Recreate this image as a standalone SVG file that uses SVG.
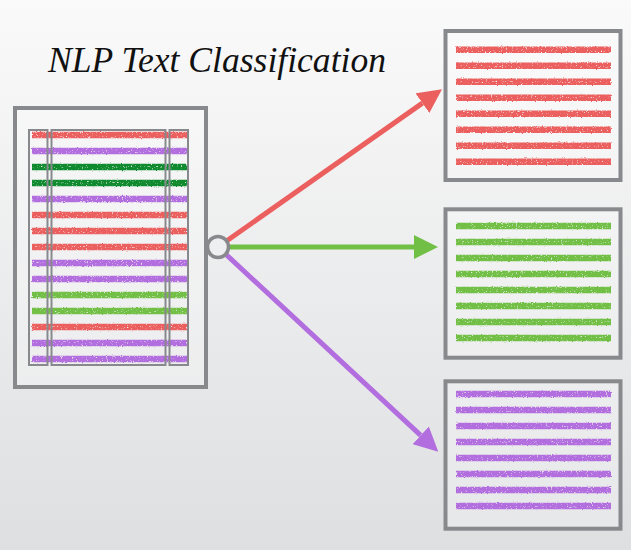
<svg xmlns="http://www.w3.org/2000/svg" width="631" height="550" viewBox="0 0 631 550">
  <defs>
    <linearGradient id="bg" x1="0" y1="0" x2="0" y2="1">
      <stop offset="0" stop-color="#fafafa"/>
      <stop offset="1" stop-color="#dedfe1"/>
    </linearGradient>
    <filter id="rough" x="-5%" y="-5%" width="110%" height="110%" color-interpolation-filters="sRGB">
      <feTurbulence type="fractalNoise" baseFrequency="0.8" numOctaves="1" seed="4" result="n"/>
      <feDisplacementMap in="SourceGraphic" in2="n" scale="2.5" xChannelSelector="G" yChannelSelector="B" result="d"/>
      <feColorMatrix in="n" type="matrix" values="0 0 0 0 0  0 0 0 0 0  0 0 0 0 0  5 0 0 0 -1.0" result="a"/>
      <feComposite in="d" in2="a" operator="in"/>
    </filter>
    <marker id="ah-red" viewBox="0 0 24 24" refX="0" refY="12" markerWidth="24" markerHeight="24" markerUnits="userSpaceOnUse" orient="auto">
      <path d="M0,0 L24,12 L0,24 z" fill="#ec5f5f"/>
    </marker>
    <marker id="ah-green" viewBox="0 0 24 24" refX="0" refY="12" markerWidth="24" markerHeight="24" markerUnits="userSpaceOnUse" orient="auto">
      <path d="M0,0 L24,12 L0,24 z" fill="#72bf45"/>
    </marker>
    <marker id="ah-purple" viewBox="0 0 24 24" refX="0" refY="12" markerWidth="24" markerHeight="24" markerUnits="userSpaceOnUse" orient="auto">
      <path d="M0,0 L24,12 L0,24 z" fill="#b26ddf"/>
    </marker>
  </defs>
  <style>
    .box { fill: #ffffff; fill-opacity: 0.25; stroke: #87898d; stroke-width: 4; }
    .col { fill: none; stroke: #87898d; stroke-width: 2; }
    .ln { stroke-width: 6.5; fill: none; }
    .r { stroke: #ec5f5f; }
    .p { stroke: #b26ddf; }
    .dg { stroke: #0f8a2e; }
    .g { stroke: #72bf45; }
    .conn { stroke-width: 5; fill: none; }
    .title { font-family: "Liberation Serif", "Times New Roman", serif; font-style: italic; font-size: 35px; fill: #111111; }
  </style>

  <rect x="0" y="0" width="631" height="550" fill="url(#bg)"/>

  <g id="title">
    <text class="title" x="48" y="72" textLength="338" lengthAdjust="spacingAndGlyphs">NLP Text Classification</text>
  </g>

  <g id="input-document">
    <rect class="box" x="15" y="108" width="191" height="279"/>
    <g filter="url(#rough)">
      <line class="ln r" x1="32" y1="135" x2="187" y2="135"/>
      <line class="ln p" x1="32" y1="151" x2="187" y2="151"/>
      <line class="ln dg" x1="32" y1="167" x2="187" y2="167"/>
      <line class="ln dg" x1="32" y1="183" x2="187" y2="183"/>
      <line class="ln p" x1="32" y1="199" x2="187" y2="199"/>
      <line class="ln r" x1="32" y1="215" x2="187" y2="215"/>
      <line class="ln r" x1="32" y1="231" x2="187" y2="231"/>
      <line class="ln r" x1="32" y1="247" x2="187" y2="247"/>
      <line class="ln p" x1="32" y1="263" x2="187" y2="263"/>
      <line class="ln p" x1="32" y1="279" x2="187" y2="279"/>
      <line class="ln g" x1="32" y1="295" x2="187" y2="295"/>
      <line class="ln g" x1="32" y1="311" x2="187" y2="311"/>
      <line class="ln r" x1="32" y1="327" x2="187" y2="327"/>
      <line class="ln p" x1="32" y1="343" x2="187" y2="343"/>
      <line class="ln p" x1="32" y1="359" x2="187" y2="359"/>
    </g>
    <rect class="col" x="29" y="130" width="18.5" height="235"/>
    <rect class="col" x="51.5" y="130" width="114" height="235"/>
    <rect class="col" x="169.5" y="130" width="18.5" height="235"/>
  </g>

  <g id="connectors">
    <line class="conn" x1="218" y1="247" x2="422.4" y2="103.1" stroke="#ec5f5f" marker-end="url(#ah-red)"/>
    <line class="conn" x1="218" y1="247" x2="414" y2="247" stroke="#72bf45" marker-end="url(#ah-green)"/>
    <line class="conn" x1="218" y1="247" x2="420.7" y2="435.4" stroke="#b26ddf" marker-end="url(#ah-purple)"/>
  </g>

  <g id="hub">
    <circle cx="218" cy="247" r="10.5" fill="#eeeff0" stroke="#87898d" stroke-width="3.5"/>
  </g>

  <g id="class-red">
    <rect class="box" x="445.5" y="31" width="175" height="149"/>
    <g filter="url(#rough)">
      <line class="ln r" x1="456" y1="49.7" x2="611" y2="49.7"/>
      <line class="ln r" x1="456" y1="65.7" x2="611" y2="65.7"/>
      <line class="ln r" x1="456" y1="81.7" x2="611" y2="81.7"/>
      <line class="ln r" x1="456" y1="97.7" x2="611" y2="97.7"/>
      <line class="ln r" x1="456" y1="113.7" x2="611" y2="113.7"/>
      <line class="ln r" x1="456" y1="129.7" x2="611" y2="129.7"/>
      <line class="ln r" x1="456" y1="145.7" x2="611" y2="145.7"/>
      <line class="ln r" x1="456" y1="161.7" x2="611" y2="161.7"/>
    </g>
  </g>

  <g id="class-green">
    <rect class="box" x="445.5" y="209.3" width="175" height="148.4"/>
    <g filter="url(#rough)">
      <line class="ln g" x1="456" y1="225.9" x2="611" y2="225.9"/>
      <line class="ln g" x1="456" y1="241.9" x2="611" y2="241.9"/>
      <line class="ln g" x1="456" y1="257.9" x2="611" y2="257.9"/>
      <line class="ln g" x1="456" y1="273.9" x2="611" y2="273.9"/>
      <line class="ln g" x1="456" y1="289.9" x2="611" y2="289.9"/>
      <line class="ln g" x1="456" y1="305.9" x2="611" y2="305.9"/>
      <line class="ln g" x1="456" y1="321.9" x2="611" y2="321.9"/>
      <line class="ln g" x1="456" y1="337.9" x2="611" y2="337.9"/>
    </g>
  </g>

  <g id="class-purple">
    <rect class="box" x="445.5" y="381.3" width="175" height="147.4"/>
    <g filter="url(#rough)">
      <line class="ln p" x1="456" y1="393.9" x2="611" y2="393.9"/>
      <line class="ln p" x1="456" y1="409.9" x2="611" y2="409.9"/>
      <line class="ln p" x1="456" y1="425.9" x2="611" y2="425.9"/>
      <line class="ln p" x1="456" y1="441.9" x2="611" y2="441.9"/>
      <line class="ln p" x1="456" y1="457.9" x2="611" y2="457.9"/>
      <line class="ln p" x1="456" y1="473.9" x2="611" y2="473.9"/>
      <line class="ln p" x1="456" y1="489.9" x2="611" y2="489.9"/>
      <line class="ln p" x1="456" y1="505.9" x2="611" y2="505.9"/>
    </g>
  </g>
</svg>
